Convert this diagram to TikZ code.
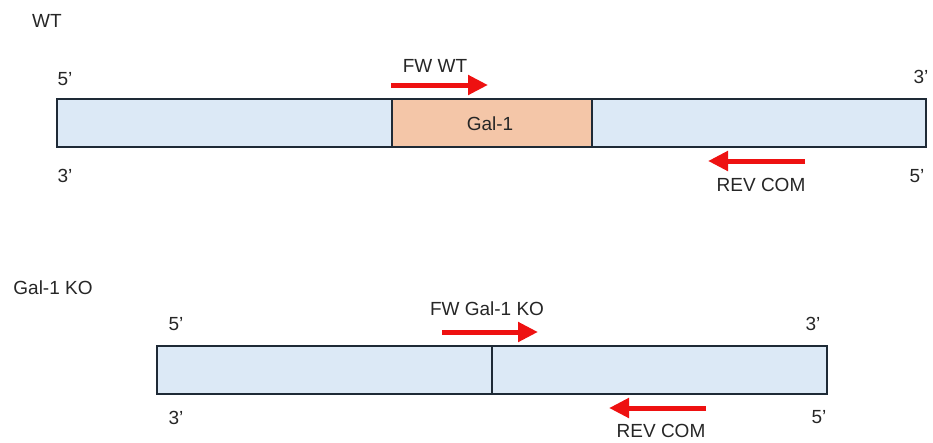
\documentclass[tikz,border=0pt]{standalone}
\usepackage{fontspec}
\setmainfont{Liberation Sans}
\usetikzlibrary{arrows.meta}
\definecolor{segblue}{HTML}{DCE9F6}
\definecolor{segpeach}{HTML}{F4C6A8}
\definecolor{segline}{HTML}{1E2A36}
\definecolor{primer}{HTML}{EE1111}
\tikzset{
  seg/.style={draw=segline, line width=1.5pt, rectangle, inner sep=0pt, anchor=north west},
  lbl/.style={font=\fontsize{19}{22}\selectfont, text=black!85, anchor=base, inner sep=0pt},
  primerarrow/.style={draw=primer, line width=5pt, line cap=butt,
    -{Triangle[length=20pt,width=19pt]}}
}
\begin{document}
\begin{tikzpicture}[x=1pt,y=-1pt]
\useasboundingbox (0,0) rectangle (933,442);

% wild-type locus
\node[lbl] (wt) at (47,27) {WT};
\node[seg, fill=segblue, minimum width=335pt, minimum height=48pt] (wtleft) at (56,98) {};
\node[seg, fill=segpeach, minimum width=200pt, minimum height=48pt] (gal) at (391,98) {};
\node[seg, fill=segblue, minimum width=334pt, minimum height=48pt] (wtright) at (591,98) {};
\node[lbl] (galtxt) at (490,130) {Gal-1};
\node[lbl] (wt5a) at (65,85) {5’};
\node[lbl] (wt3a) at (921,83) {3’};
\node[lbl] (wt3b) at (65,182) {3’};
\node[lbl] (wt5b) at (917,182) {5’};
\node[lbl] (fwwt) at (435,72) {FW WT};
\node[lbl] (revwt) at (761,191) {REV COM};
\coordinate (fwwtS) at (391,85);
\coordinate (fwwtE) at (488,85);
\coordinate (revwtS) at (805,161);
\coordinate (revwtE) at (708,161);
\draw[primerarrow] (fwwtS) -- (fwwtE);
\draw[primerarrow] (revwtS) -- (revwtE);

% knockout locus
\node[lbl] (ko) at (53,294) {Gal-1 KO};
\node[seg, fill=segblue, minimum width=335pt, minimum height=48pt] (koleft) at (156,345) {};
\node[seg, fill=segblue, minimum width=335pt, minimum height=48pt] (koright) at (491,345) {};
\node[lbl] (ko5a) at (176,330) {5’};
\node[lbl] (ko3a) at (813,330) {3’};
\node[lbl] (ko3b) at (176,424) {3’};
\node[lbl] (ko5b) at (819,423) {5’};
\node[lbl] (fwko) at (487,315) {FW Gal-1 KO};
\node[lbl] (revko) at (661,437) {REV COM};
\coordinate (fwkoS) at (442,332);
\coordinate (fwkoE) at (538,332);
\coordinate (revkoS) at (706,408);
\coordinate (revkoE) at (609,408);
\draw[primerarrow] (fwkoS) -- (fwkoE);
\draw[primerarrow] (revkoS) -- (revkoE);
\end{tikzpicture}
\end{document}
